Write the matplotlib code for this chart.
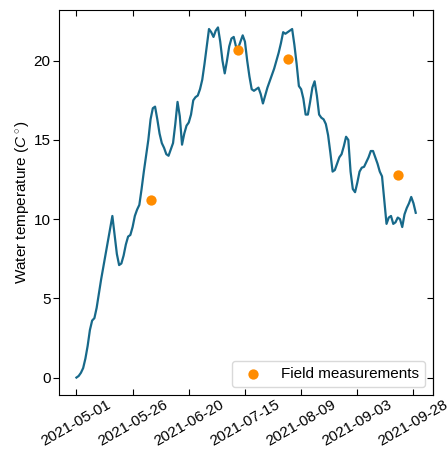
import numpy as np
import pandas as pd
import matplotlib
matplotlib.use("Agg")
import matplotlib.pyplot as plt
import matplotlib.dates as mdates

plt.rcParams['font.family'] = ['Liberation Sans', 'DejaVu Sans']
plt.rcParams['mathtext.fontset'] = 'custom'
plt.rcParams['mathtext.rm'] = 'Liberation Sans'
plt.rcParams['mathtext.it'] = 'Liberation Sans:italic'
plt.rcParams['font.size'] = 11

# Daily simulated water temperature (deg C), starting 2021-05-01
start_date = "2021-05-01"
water_temp = [
    0.0, 0.1, 0.3, 0.6, 1.2, 2.0, 3.0, 3.6, 3.75, 4.4,
    5.3, 6.2, 7.0, 7.8, 8.6, 9.4, 10.2, 9.0, 7.8, 7.1,
    7.2, 7.7, 8.4, 8.9, 9.0, 9.5, 10.2, 10.6, 10.9, 11.9,
    13.0, 14.0, 15.0, 16.3, 17.0, 17.1, 16.3, 15.4, 14.8, 14.5,
    14.1, 14.0, 14.4, 14.8, 16.0, 17.4, 16.5, 14.7, 15.4, 15.9,
    16.1, 16.6, 17.5, 17.7, 17.8, 18.2, 18.8, 19.8, 20.9, 22.0,
    21.8, 21.5, 21.9, 22.1, 21.2, 20.0, 19.2, 20.0, 20.9, 21.4,
    21.5, 20.9, 20.8, 21.2, 21.6, 21.2, 20.0, 19.0, 18.2, 18.1,
    18.2, 18.3, 17.9, 17.3, 17.8, 18.3, 18.7, 19.1, 19.5, 20.0,
    20.5, 21.1, 21.8, 21.7, 21.8, 21.9, 22.0, 21.0, 19.8, 18.4,
    18.2, 17.6, 16.6, 16.6, 17.4, 18.3, 18.7, 17.8, 16.6, 16.4,
    16.3, 16.0, 15.3, 14.2, 13.0, 13.1, 13.5, 13.9, 14.1, 14.6,
    15.2, 15.0, 13.0, 11.9, 11.7, 12.3, 13.0, 13.25, 13.3, 13.6,
    13.9, 14.3, 14.3, 13.9, 13.5, 13.0, 12.7, 11.2, 9.7, 10.1,
    10.2, 9.7, 9.8, 10.1, 10.0, 9.5, 10.3, 10.7, 11.0, 11.4,
    11.0, 10.4,
]

# Field measurements
field_dates = ["2021-06-03", "2021-07-12", "2021-08-03", "2021-09-21"]
field_temp = [11.2, 20.7, 20.1, 12.8]

tick_dates = ["2021-05-01", "2021-05-26", "2021-06-20", "2021-07-15",
              "2021-08-09", "2021-09-03", "2021-09-28"]

dates = pd.date_range(start_date, periods=len(water_temp), freq="D")

fig = plt.figure(figsize=(4.47, 4.51), dpi=100)
ax = fig.add_axes([0.133, 0.124, 0.835, 0.854])

ax.plot(dates, water_temp, color="#17698a", lw=1.6)
ax.scatter(pd.to_datetime(field_dates), field_temp, s=55, color="#ff8c00",
           zorder=3, label="Field measurements", linewidths=0)

ax.set_xticks(pd.to_datetime(tick_dates))
ax.xaxis.set_major_formatter(mdates.DateFormatter("%Y-%m-%d"))
for lbl in ax.get_xticklabels():
    lbl.set_rotation(30)
    lbl.set_ha("center")

ax.set_yticks([0, 5, 10, 15, 20])
ax.tick_params(axis="x", direction="in", top=True, length=4.5, pad=2)
ax.tick_params(axis="y", direction="out", left=True, right=False, length=4.5, pad=2)

sec = ax.secondary_yaxis("right")
sec.tick_params(direction="in", length=4.5, labelright=False)
sec.set_yticks([0, 5, 10, 15, 20])

ax.set_ylabel(r"Water temperature ($C^\circ$)", labelpad=2)

leg = ax.legend(loc="lower right", fontsize=11)
leg.get_frame().set_edgecolor("#d0d0d0")

fig.savefig("out.png", dpi=100)
